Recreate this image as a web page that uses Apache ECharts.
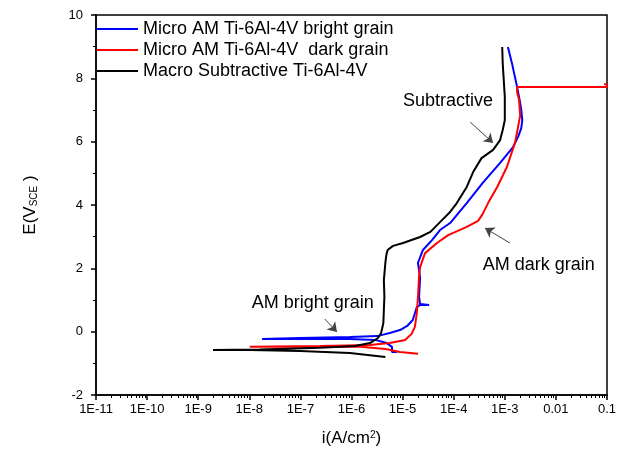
<!DOCTYPE html>
<html><head><meta charset="utf-8">
<script src="https://cdn.jsdelivr.net/npm/echarts@6/dist/echarts.min.js"></script>
<style>html,body{margin:0;padding:0;background:#fff}#c{width:623px;height:455px}</style>
</head><body><div id="c"></div>
<script>
// ---- data (current density A/cm^2, potential V vs SCE) ----
const seriesNames = ['Micro AM Ti-6Al-4V bright grain', 'Micro AM Ti-6Al-4V  dark grain', 'Macro Subtractive Ti-6Al-4V'];

const brightI = [7.8e-6, 6.2e-6, 6.2e-6, 4.9e-6, 2.9e-6, 9.3e-7, 9.8e-8, 1.78e-8,
  9.8e-8, 9.3e-7, 3.2e-6, 5.6e-6, 8.9e-6, 1.23e-5, 1.58e-5, 1.9e-5, 2.2e-5, 3.3e-5, 2.2e-5,
  2.1e-5, 2.2e-5, 2.0e-5, 2.5e-5, 3.8e-5, 5.4e-5, 8.5e-5, 1.8e-4, 3.7e-4, 8.1e-4,
  1.45e-3, 1.82e-3, 2.1e-3, 2.2e-3, 2.1e-3, 2.0e-3, 1.74e-3, 1.38e-3, 1.15e-3];
const brightE = [-0.64, -0.64, -0.48, -0.36, -0.26, -0.23, -0.23, -0.23,
  -0.20, -0.17, -0.14, -0.04, 0.05, 0.18, 0.37, 0.78, 0.84, 0.84, 0.87,
  1.10, 1.70, 2.17, 2.58, 2.90, 3.21, 3.43, 4.06, 4.70, 5.33,
  5.83, 6.15, 6.43, 6.68, 7.00, 7.22, 7.73, 8.48, 8.99];

const darkI = [2.0e-5, 8.9e-6, 4.6e-6, 1.48e-6, 9.8e-8, 1.02e-8,
  2.4e-7, 2.3e-6, 5.6e-6, 1.12e-5, 1.5e-5, 1.74e-5, 1.9e-5, 2.0e-5, 2.1e-5, 2.2e-5,
  2.75e-5, 4.7e-5, 7.8e-5, 1.8e-4, 3.0e-4, 3.7e-4, 4.7e-4, 7.1e-4, 1.1e-3, 1.58e-3,
  1.82e-3, 2.0e-3, 1.9e-3, 1.74e-3, 1.74e-3, 0.072, 0.1, 0.1, 0.088];
const darkE = [-0.70, -0.64, -0.55, -0.48, -0.48, -0.48,
  -0.45, -0.42, -0.36, -0.26, -0.07, 0.15, 0.59, 1.10, 1.73, 2.04,
  2.48, 2.80, 3.05, 3.31, 3.50, 3.72, 4.06, 4.57, 5.20, 5.96,
  6.46, 6.84, 7.32, 7.57, 7.73, 7.73, 7.73, 7.80, 7.82];

const subI = [4.6e-6, 9.3e-7, 9.8e-8, 1.02e-8, 1.95e-9,
  1.6e-8, 2.4e-7, 1.17e-6, 2.3e-6, 3.3e-6, 3.8e-6, 4.2e-6, 4.4e-6, 4.3e-6, 4.6e-6,
  4.8e-6, 5.1e-6, 6.5e-6, 1.02e-5, 2.2e-5, 3.5e-5, 5.4e-5, 8.5e-5, 1.15e-4, 1.8e-4,
  2.4e-4, 3.5e-4, 5.9e-4, 8.1e-4, 9.1e-4, 1.0e-3, 1.0e-3, 9.1e-4, 8.9e-4];
const subE = [-0.80, -0.67, -0.61, -0.58, -0.58,
  -0.56, -0.51, -0.45, -0.36, -0.20, -0.04, 0.27, 1.10, 1.63, 2.17,
  2.42, 2.58, 2.71, 2.80, 2.99, 3.15, 3.46, 3.78, 4.06, 4.57,
  5.04, 5.48, 5.74, 6.05, 6.37, 6.68, 7.41, 8.48, 8.99];

// tick labels of the decades 1E-11 ... 0.1
const xTickLabels = ['1E-11', '1E-10', '1E-9', '1E-8', '1E-7', '1E-6', '1E-5', '1E-4', '1E-3', '0.01', '0.1'];
const yTickValues = [-2, 0, 2, 4, 6, 8, 10];

const annoTexts = ['Subtractive', 'AM bright grain', 'AM dark grain'];
const annoTextI = [1.02e-5, 1.12e-8, 3.7e-4];
const annoTextE = [7.28, 0.91, 2.11];
const arrowFromI = [2.1e-4, 3.0e-7, 1.26e-3];
const arrowFromE = [6.62, 0.40, 2.80];
const arrowToI = [5.9e-4, 5.2e-7, 4.1e-4];
const arrowToE = [5.96, -0.01, 3.27];

// ---- chart ----
const zip = (a, b) => a.map((v, i) => [v, b[i]]);
const X_MIN_EXP = -11, X_MAX_EXP = -1;
const minorTickPos = [];
for (let n = X_MIN_EXP; n < X_MAX_EXP; n++) for (let k = 2; k <= 9; k++) minorTickPos.push(n + Math.log10(k));

const FONT = 'Liberation Sans, Arial, sans-serif';
const chart = echarts.init(document.getElementById('c'), null, {renderer: 'canvas'});
const lineSeries = (name, color, data, extra) => Object.assign({
  name, type: 'line', data, symbol: 'none', showSymbol: false, smooth: false,
  lineStyle: {color, width: 2}, itemStyle: {color}, xAxisIndex: 0, yAxisIndex: 0, clip: true
}, extra || {});

chart.setOption({
  animation: false,
  textStyle: {fontFamily: FONT},
  grid: {left: 96, right: 16, top: 15, bottom: 60, show: true, borderColor: '#000', borderWidth: 1.5, backgroundColor: 'transparent'},
  legend: {
    data: seriesNames, orient: 'vertical', left: 97, top: 20, padding: 0,
    itemWidth: 41, itemHeight: 2, icon: 'rect', itemGap: 3,
    textStyle: {fontSize: 18, color: '#000', lineHeight: 18, fontFamily: FONT}
  },
  xAxis: [{
    // data axis (logarithmic current density)
    type: 'log', logBase: 10, min: Math.pow(10, X_MIN_EXP), max: Math.pow(10, X_MAX_EXP),
    axisLine: {show: false, onZero: false}, axisTick: {show: false}, axisLabel: {show: false},
    splitLine: {show: false}
  }, {
    // decade ticks & labels, in exponent units (same extent as the log axis)
    type: 'value', min: X_MIN_EXP, max: X_MAX_EXP, interval: 1, position: 'bottom',
    axisLine: {show: true, onZero: false, lineStyle: {color: '#000', width: 1.5}},
    axisTick: {show: true, inside: false, length: 5, lineStyle: {color: '#000', width: 1.5}},
    axisLabel: {
      fontSize: 13, color: '#000', margin: 8, interval: 0, hideOverlap: false,
      showMinLabel: true, showMaxLabel: true, fontFamily: FONT,
      formatter: v => xTickLabels[Math.round(v) - X_MIN_EXP]
    },
    splitLine: {show: false},
    name: 'i(A/cm{sup|2})', nameLocation: 'middle', nameGap: 35,
    nameTextStyle: {fontSize: 17, color: '#000', fontFamily: FONT, rich: {sup: {fontSize: 10, verticalAlign: 'top', lineHeight: 10, color: '#000'}}}
  }, {
    // minor ticks at 2..9 of each decade
    type: 'value', min: X_MIN_EXP, max: X_MAX_EXP, position: 'bottom',
    axisLine: {show: false, onZero: false}, axisLabel: {show: false}, splitLine: {show: false},
    axisTick: {show: true, inside: false, length: 3, customValues: minorTickPos, lineStyle: {color: '#000', width: 1}}
  }],
  yAxis: {
    type: 'value', min: yTickValues[0], max: yTickValues[yTickValues.length - 1], interval: 2,
    axisLine: {show: true, onZero: false, lineStyle: {color: '#000', width: 1.5}},
    axisTick: {show: true, inside: false, length: 5, lineStyle: {color: '#000', width: 1.5}},
    minorTick: {show: true, splitNumber: 2, length: 3, lineStyle: {color: '#000', width: 1}},
    axisLabel: {fontSize: 13, color: '#000', margin: 13, fontFamily: FONT},
    splitLine: {show: false},
    name: 'E(V{sub|SCE} )', nameLocation: 'middle', nameRotate: 90, nameGap: 57,
    nameTextStyle: {fontSize: 17, color: '#000', fontFamily: FONT, rich: {sub: {fontSize: 10, verticalAlign: 'bottom', lineHeight: 10, color: '#000'}}}
  },
  series: [
    lineSeries(seriesNames[0], '#0000ff', zip(brightI, brightE)),
    lineSeries(seriesNames[1], '#ff0000', zip(darkI, darkE)),
    lineSeries(seriesNames[2], '#000000', zip(subI, subE), {
      markLine: {
        silent: true, symbol: ['none', 'arrow'], symbolSize: 9, animation: false,
        label: {show: false},
        itemStyle: {color: '#111'},
        lineStyle: {color: '#444', width: 1, type: 'solid'},
        emphasis: {disabled: true},
        data: annoTexts.map((t, i) => [{coord: [arrowFromI[i], arrowFromE[i]]}, {coord: [arrowToI[i], arrowToE[i]]}])
      },
      markPoint: {
        silent: true, symbol: 'circle', symbolSize: 0, animation: false,
        itemStyle: {color: 'transparent'},
        label: {show: true, position: 'right', distance: 0, color: '#000', fontSize: 18, fontFamily: FONT, formatter: '{b}'},
        data: annoTexts.map((t, i) => ({name: t, coord: [annoTextI[i], annoTextE[i]], value: 0}))
      }
    })
  ]
});
</script></body></html>
